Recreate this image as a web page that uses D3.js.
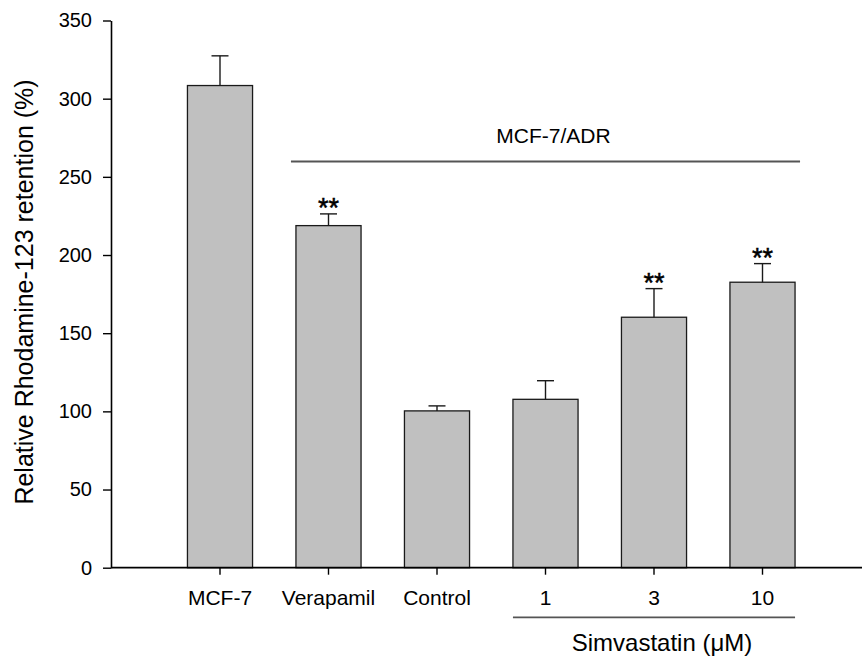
<!DOCTYPE html>
<html>
<head>
<meta charset="utf-8">
<script src="https://cdn.jsdelivr.net/npm/d3@7.9.0/dist/d3.min.js"></script>
<style>
  body { margin: 0; background: #fff; }
  svg { display: block; font-family: Arial, "Liberation Sans", sans-serif; }
</style>
</head>
<body>
<div id="chart"></div>
<script>
// chart values
const categories = ['MCF-7', 'Verapamil', 'Control', '1', '3', '10'];
const means = [308.4, 218.8, 100.3, 107.7, 160.2, 182.6];
const errors = [19.0, 7.5, 3.2, 11.9, 18.3, 11.9];
const significant = [false, true, false, false, true, true];
const yTicks = [0, 50, 100, 150, 200, 250, 300, 350];

const width = 863;
const height = 659;

const svg = d3.select('#chart')
  .append('svg')
  .attr('width', width)
  .attr('height', height);

// y: 0..350
const yScale = d3.scaleLinear()
  .domain([0, 350])
  .range([567.7, 20.5]);

// x: one band per group
const xScale = d3.scaleBand()
  .domain(categories)
  .range([165.75, 816.75])
  .paddingInner(0.4)
  .paddingOuter(0.2);

const axisX = 111;
const axisY = yScale(0);

// Y axis
const yAxis = svg.append('g')
  .attr('transform', `translate(${axisX},0)`)
  .call(d3.axisLeft(yScale).tickValues(yTicks).tickSize(8).tickSizeOuter(0).tickPadding(11));
yAxis.select('.domain').attr('stroke', '#000').attr('stroke-width', 1.6);
yAxis.selectAll('.tick line').attr('stroke', '#000').attr('stroke-width', 1.4);
yAxis.selectAll('.tick text')
  .attr('font-size', 20)
  .attr('fill', '#000')
  .style('font-family', 'Arial, "Liberation Sans", sans-serif');

// bars
svg.append('g')
  .selectAll('rect')
  .data(categories)
  .join('rect')
  .attr('x', d => xScale(d))
  .attr('y', (d, i) => yScale(means[i]))
  .attr('width', xScale.bandwidth())
  .attr('height', (d, i) => axisY - yScale(means[i]))
  .attr('fill', '#c0c0c0')
  .attr('stroke', '#1a1a1a')
  .attr('stroke-width', 1.3);

// error bars (upper only)
const errG = svg.append('g').attr('stroke', '#1a1a1a').attr('stroke-width', 1.4);
categories.forEach((c, i) => {
  const cx = xScale(c) + xScale.bandwidth() / 2;
  const top = yScale(means[i] + errors[i]);
  errG.append('line')
    .attr('x1', cx).attr('x2', cx)
    .attr('y1', yScale(means[i])).attr('y2', top);
  errG.append('line')
    .attr('x1', cx - 8.5).attr('x2', cx + 8.5)
    .attr('y1', top).attr('y2', top);
  if (significant[i]) {
    svg.append('text')
      .attr('x', cx)
      .attr('y', top + 3)
      .attr('text-anchor', 'middle')
      .attr('font-size', 27)
      .attr('stroke', '#000')
      .attr('stroke-width', 0.5)
      .attr('fill', '#000')
      .text('**');
  }
});

// X axis (ticks + long base line)
const xAxis = svg.append('g')
  .attr('transform', `translate(0,${axisY})`)
  .call(d3.axisBottom(xScale).tickSize(7).tickSizeOuter(0).tickPadding(15));
xAxis.select('.domain').remove();
xAxis.selectAll('.tick line').attr('stroke', '#000').attr('stroke-width', 1.4);
xAxis.selectAll('.tick text')
  .attr('font-size', 21)
  .attr('fill', '#000')
  .style('font-family', 'Arial, "Liberation Sans", sans-serif');
svg.append('line')
  .attr('x1', axisX).attr('x2', 862)
  .attr('y1', axisY).attr('y2', axisY)
  .attr('stroke', '#000')
  .attr('stroke-width', 1.8);

// MCF-7/ADR bracket line
const adrX1 = xScale('Verapamil') - 5;
const adrX2 = xScale('10') + xScale.bandwidth() + 5;
svg.append('line')
  .attr('x1', adrX1).attr('x2', adrX2)
  .attr('y1', 161.5).attr('y2', 161.5)
  .attr('stroke', '#555')
  .attr('stroke-width', 1.8);
svg.append('text')
  .attr('x', (adrX1 + adrX2) / 2 + 8)
  .attr('y', 143)
  .attr('text-anchor', 'middle')
  .attr('font-size', 21)
  .text('MCF-7/ADR');

// Simvastatin bracket line
const simX1 = xScale('1');
const simX2 = xScale('10') + xScale.bandwidth();
svg.append('line')
  .attr('x1', simX1).attr('x2', simX2)
  .attr('y1', 617.3).attr('y2', 617.3)
  .attr('stroke', '#555')
  .attr('stroke-width', 1.8);
svg.append('text')
  .attr('x', (simX1 + simX2) / 2 + 8)
  .attr('y', 650.5)
  .attr('text-anchor', 'middle')
  .attr('font-size', 24)
  .text('Simvastatin (\u03BCM)');

// Y axis title
svg.append('text')
  .attr('transform', 'translate(33,292) rotate(-90)')
  .attr('text-anchor', 'middle')
  .attr('font-size', 25)
  .text('Relative Rhodamine-123 retention (%)');
</script>
</body>
</html>
